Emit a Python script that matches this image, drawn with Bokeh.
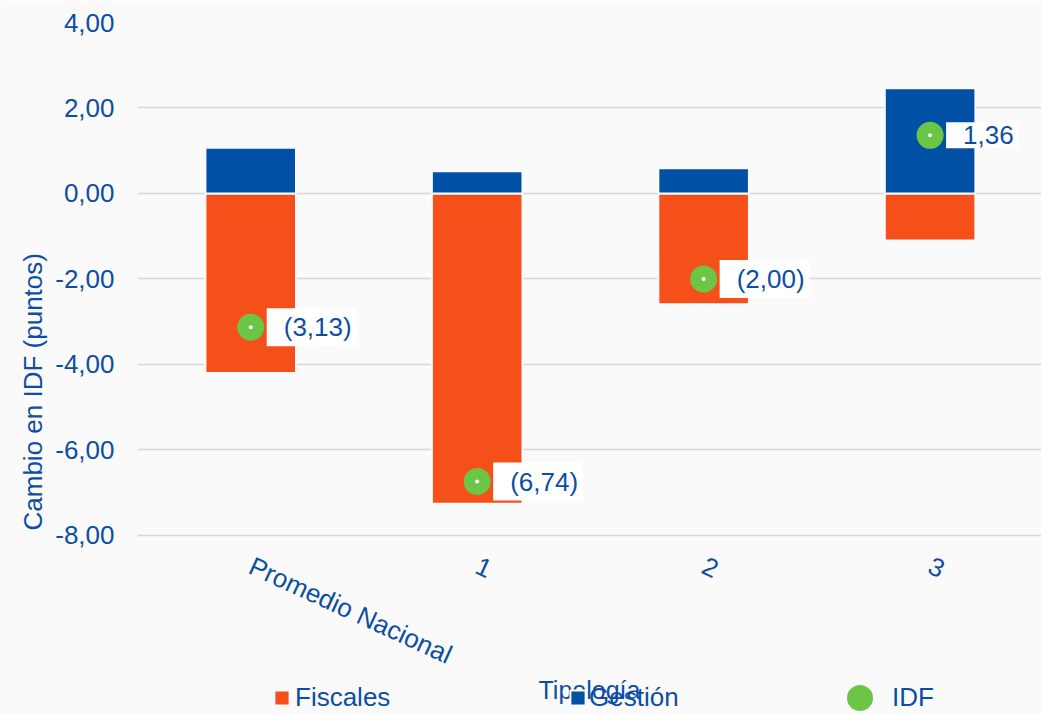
import math
from bokeh.plotting import figure
from bokeh.models import (ColumnDataSource, Range1d, FixedTicker, Legend,
                          LegendItem, Title)
from bokeh.core.properties import value
from bokeh.embed import file_html
from bokeh.resources import INLINE

# ---- data -------------------------------------------------------------
categories = ["Promedio Nacional", "1", "2", "3"]
gestion = [1.07, 0.52, 0.59, 2.46]
fiscales = [-4.20, -7.26, -2.59, -1.10]
idf = [-3.13, -6.74, -2.00, 1.36]
y_ticks = [-8, -6, -4, -2, 0, 2, 4]
series_names = ["Fiscales", "Gestión", "IDF"]
x_title = "Tipología"
y_title = "Cambio en IDF (puntos)"


def fmt(v):
    return f"{v:.2f}".replace(".", ",")


idf_labels = [f"({fmt(abs(v))})" if v < 0 else fmt(v) for v in idf]

# ---- style ------------------------------------------------------------
FONT = "Liberation Sans"
TXT = "#0D4EA3"
BLUE = "#0050A5"
ORANGE = "#F5501A"
GREEN = "#6CC645"
BG = "#FAFAFA"

xs = list(range(len(categories)))
src = ColumnDataSource(dict(x=xs, gestion=gestion, fiscales=fiscales,
                            idf=idf, lab=idf_labels, zero=[0] * len(xs)))

# the frame reaches the bottom of the canvas so that the legends (drawn
# below the axis) are not clipped; the x axis is pinned at y = -8
p = figure(width=1041, height=714,
           x_range=Range1d(-0.5, 3.492), y_range=Range1d(-12.19, 4),
           output_backend="svg", toolbar_location=None,
           min_border_left=137, min_border_right=0,
           min_border_top=22, min_border_bottom=0)
p.background_fill_color = BG
p.border_fill_color = BG
p.outline_line_color = None

rf = p.vbar(x="x", top="zero", bottom="fiscales", width=0.4, source=src,
            fill_color=ORANGE, line_color=BG, line_width=2)
rg = p.vbar(x="x", bottom="zero", top="gestion", width=0.4, source=src,
            fill_color=BLUE, line_color=BG, line_width=2)
rc = p.scatter(x="x", y="idf", size=27, fill_color=GREEN, line_color=None,
               source=src)
p.scatter(x="x", y="idf", size=4, fill_color="white", line_color=None,
          source=src)
p.text(x="x", y="idf", text="lab", source=src, x_offset=16,
       text_align="left", text_baseline="middle",
       text_font=value(FONT), text_font_size=value("26px"), text_color=TXT,
       background_fill_color="white",
       padding=dict(left=17, right=5, top=4, bottom=4))

# ---- axes -------------------------------------------------------------
p.xaxis.fixed_location = min(y_ticks)
p.xaxis.ticker = FixedTicker(ticks=xs)
p.xaxis.major_label_overrides = {i: c for i, c in enumerate(categories)}
p.xaxis.major_label_orientation = -0.43
p.xaxis.axis_label = x_title
p.xaxis.axis_label_text_font_style = "normal"
p.xaxis.axis_label_text_font_size = "25px"
p.xaxis.axis_label_standoff = -10

p.yaxis.ticker = FixedTicker(ticks=y_ticks)
p.yaxis.major_label_overrides = {t: fmt(t) for t in y_ticks}
p.yaxis.major_label_standoff = 23

for ax in (p.xaxis, p.yaxis):
    ax.axis_line_color = None
    ax.major_tick_line_color = None
    ax.minor_tick_line_color = None
    ax.major_tick_out = 0
    ax.major_tick_in = 0
    ax.major_label_text_font = FONT
    ax.major_label_text_font_size = "26px"
    ax.major_label_text_color = TXT
    ax.axis_label_text_font = FONT
    ax.axis_label_text_color = TXT
p.xaxis.major_label_standoff = 29

p.xgrid.grid_line_color = None
p.ygrid.grid_line_color = "#D6D6D6"
p.ygrid.grid_line_width = 1.5

p.add_layout(Title(text=y_title, align="left", offset=184, text_font=FONT,
                   text_font_size="26px", text_font_style="normal",
                   text_color=TXT), "left")


# ---- legends ----------------------------------------------------------
def add_legend(renderers, label, loc, gw, gh, standoff, lh=30):
    lg = Legend(items=[LegendItem(label=label, renderers=renderers)],
                location=loc, orientation="horizontal",
                glyph_width=gw, glyph_height=gh, label_standoff=standoff,
                label_height=lh, padding=0, margin=0, spacing=0,
                border_line_color=None, background_fill_alpha=0,
                label_text_font=FONT, label_text_font_size="26px",
                label_text_color=TXT)
    p.add_layout(lg, "center")


add_legend([rf], series_names[0], (135, 1), 19, 19, 4)
add_legend([rg], series_names[1], (431, 1), 19, 19, 2)
add_legend([rc], series_names[2], (690, -16), 65, 65, 0)

open("out.html", "w").write(file_html(p, INLINE))
